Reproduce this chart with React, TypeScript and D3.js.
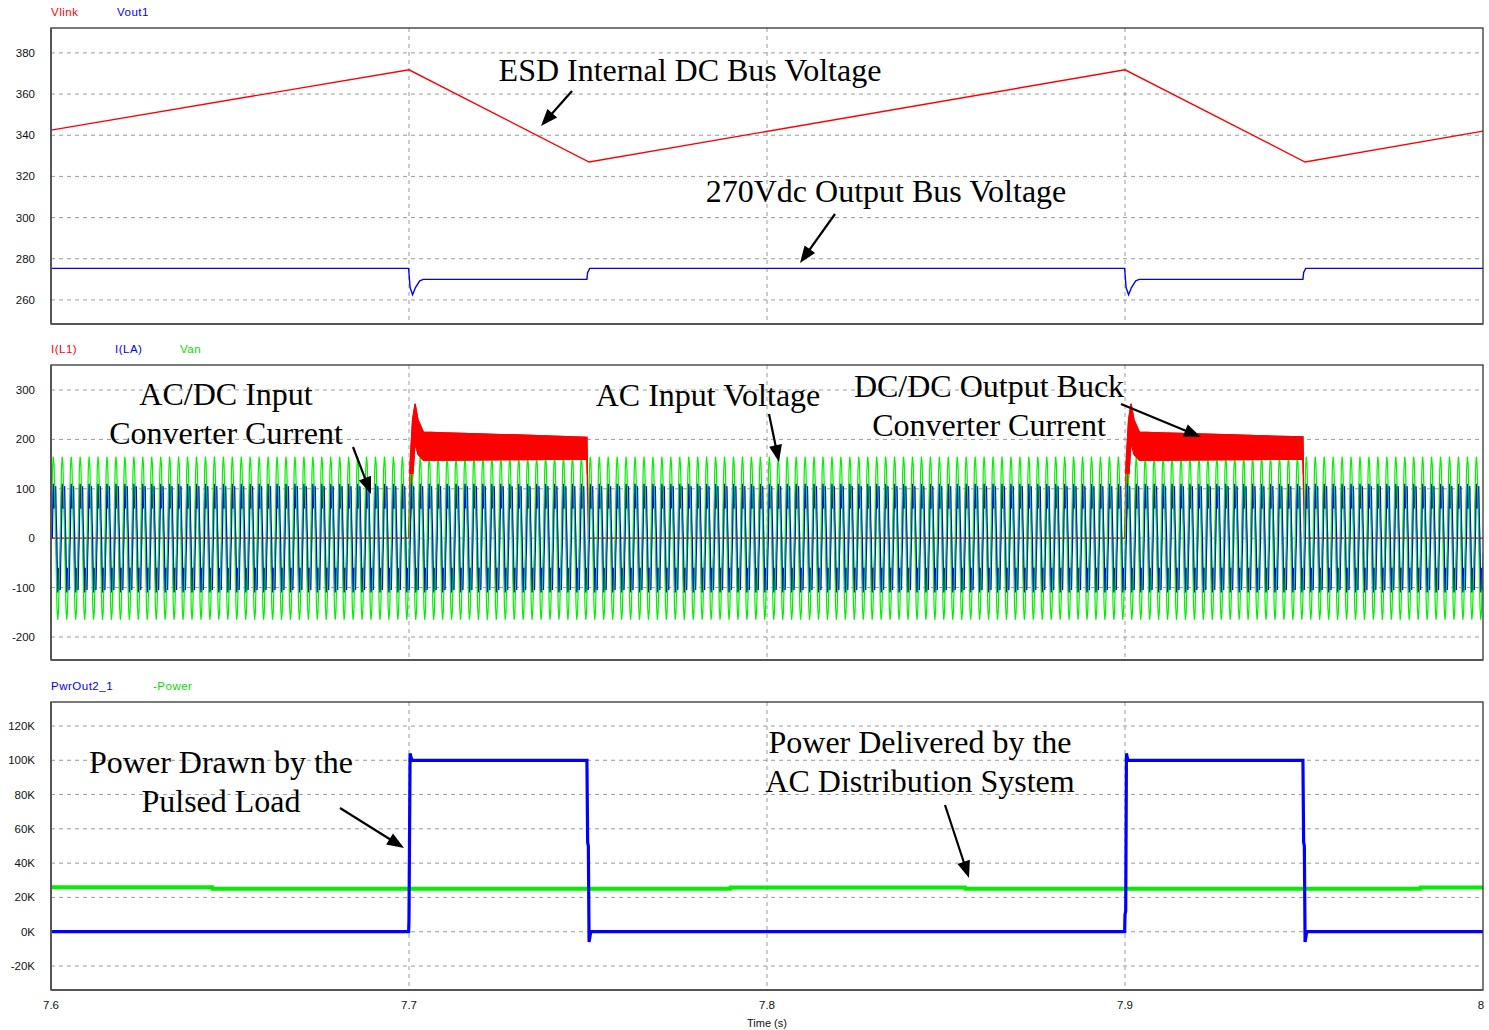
import * as d3 from 'd3';

// ---- data ----
const timeTicks = [7.6, 7.7, 7.8, 7.9, 8.0];
const timeGrid = [7.7, 7.8, 7.9];

// panel 1: Vlink (ESD DC bus) and Vout1 (270 Vdc bus)
const vlinkT = [7.6, 7.7, 7.7503, 7.9, 7.9503, 8.0];
const vlinkV = [342.5, 371.8, 327.0, 371.8, 327.0, 342.0];
const vout1T = [7.6, 7.6999, 7.7003, 7.7010, 7.7018, 7.7030, 7.7040, 7.7497, 7.7499, 7.7505,
  7.8999, 7.9003, 7.9010, 7.9018, 7.9030, 7.9040, 7.9497, 7.9499, 7.9505, 8.0];
const vout1V = [275.3, 275.3, 266, 262.5, 266, 269.3, 270, 270, 273.3, 275.3,
  275.3, 266, 262.5, 266, 269.3, 270, 270, 273.3, 275.3, 275.3];

// panel 2: I(L1) envelope of the switching ripple, one AC cycle of I(LA) and Van
const il1T = [7.6, 7.6999, 7.7003, 7.7010, 7.7017, 7.7025, 7.7040, 7.7100, 7.7300, 7.7497, 7.7501,
  7.8999, 7.9003, 7.9010, 7.9017, 7.9025, 7.9040, 7.9100, 7.9300, 7.9497, 7.9501, 8.0];
const il1Hi = [0, 0, 150, 240, 272, 240, 215, 213, 209, 204, 0,
  0, 150, 240, 272, 240, 215, 213, 209, 205, 0, 0];
const il1Lo = [0, 0, 20, 120, 195, 170, 158, 158, 159, 160, 0,
  0, 20, 120, 195, 170, 158, 158, 159, 160, 0, 0];
const acFreq = 400;
const vanCycle = [-30, 60, 140, 165, 150, 90, 20, -60, -140, -165, -150, -90];
const ilaCycle = [0, 70, 110, 95, 60, 100, 105, 40, 0, -70, -110, -95, -60, -100, -105, -40];

// panel 3: PwrOut2_1 (pulsed load) and -Power (AC distribution), kW
const pwrT = [7.6, 7.6999, 7.7000, 7.7003, 7.7008, 7.7497, 7.7499, 7.7501, 7.7503, 7.7506, 7.7508,
  7.8999, 7.9000, 7.9002, 7.9004, 7.9008, 7.9497, 7.9499, 7.9501, 7.9503, 7.9506, 7.9508, 8.0];
const pwrV = [0, 0, 8, 104, 100, 100, 52, 50, -6, -2, 0,
  0, 10, 12, 104, 100, 100, 52, 50, -6, -2, 0, 0];
const powerT = [7.6, 7.645, 7.6451, 7.7897, 7.7898, 7.8553, 7.8554, 7.9824, 7.9825, 8.0];
const powerV = [26.0, 26.0, 25.0, 25.0, 25.8, 25.8, 25.0, 25.0, 25.8, 25.8];

const W = 1489;
const H = 1030;
const xLeft = 51;
const xRight = 1483;

const panels = [
  { top: 28, bottom: 324, domain: [248.3, 392.1], ticks: [260, 280, 300, 320, 340, 360, 380], fmt: (v) => `${v}` },
  { top: 365, bottom: 660, domain: [-246.6, 350.6], ticks: [-200, -100, 0, 100, 200, 300], fmt: (v) => `${v}` },
  { top: 702, bottom: 990, domain: [-34, 134], ticks: [-20, 0, 20, 40, 60, 80, 100, 120], fmt: (v) => `${v}K` },
];

const legends = [
  [{ text: 'Vlink', x: 51, c: '#ff0000' }, { text: 'Vout1', x: 117, c: '#0000ff' }],
  [{ text: 'I(L1)', x: 51, c: '#ff0000' }, { text: 'I(LA)', x: 115, c: '#0000ff' }, { text: 'Van', x: 180, c: '#00e000' }],
  [{ text: 'PwrOut2_1', x: 51, c: '#0000ff' }, { text: '-Power', x: 153, c: '#00e000' }],
];

const notes = [
  { lines: ['ESD Internal DC Bus Voltage'], x: 690, y: 81 },
  { lines: ['270Vdc Output Bus Voltage'], x: 886, y: 202 },
  { lines: ['AC/DC Input', 'Converter Current'], x: 226, y: 405 },
  { lines: ['AC Input Voltage'], x: 708, y: 406 },
  { lines: ['DC/DC Output Buck', 'Converter Current'], x: 989, y: 397 },
  { lines: ['Power Drawn by the', 'Pulsed Load'], x: 221, y: 773 },
  { lines: ['Power Delivered by the', 'AC Distribution System'], x: 920, y: 753 },
];

const arrows = [
  [572, 91, 541, 126],
  [835, 214, 800, 263],
  [353, 447, 371, 494],
  [769, 414, 779, 462],
  [1121, 404, 1201, 437],
  [340, 808, 404, 848],
  [945, 805, 969, 878],
];

function tile(cycle: number[], freq: number, t0: number, t1: number, phase: number) {
  const step = 1 / freq / cycle.length;
  const pts: [number, number][] = [];
  let k = 0;
  for (let t = t0 + phase; t <= t1; t += step, k++) {
    pts.push([t, cycle[k % cycle.length]]);
  }
  return pts;
}

function arrowHead(x1: number, y1: number, x2: number, y2: number) {
  const a = Math.atan2(y2 - y1, x2 - x1);
  const len = 17;
  const half = 6.5;
  const bx = x2 - len * Math.cos(a);
  const by = y2 - len * Math.sin(a);
  const px = -Math.sin(a) * half;
  const py = Math.cos(a) * half;
  return `M${x2},${y2}L${bx + px},${by + py}L${bx - px},${by - py}Z`;
}

export default function App() {
  const x = d3.scaleLinear().domain([7.6, 8.0]).range([xLeft, xRight]);
  const ys = panels.map((p) => d3.scaleLinear().domain(p.domain).range([p.bottom, p.top]));

  const lineOf = (y) => d3.line<[number, number]>().x((d) => x(d[0])).y((d) => y(d[1]));
  const zipped = (t: number[], v: number[]) => t.map((ti, i) => [ti, v[i]] as [number, number]);

  const vlinkPath = lineOf(ys[0])(zipped(vlinkT, vlinkV));
  const vout1Path = lineOf(ys[0])(zipped(vout1T, vout1V));

  const il1Area = d3.area<number>()
    .x((i) => x(il1T[i]))
    .y0((i) => ys[1](il1Lo[i]))
    .y1((i) => ys[1](il1Hi[i]))(d3.range(il1T.length));
  const ilaPath = lineOf(ys[1])(tile(ilaCycle, acFreq, 7.6, 8.0, 0.0003));
  const vanPath = lineOf(ys[1])(tile(vanCycle, acFreq, 7.6, 8.0, 0));
  const bandTop = ys[1](130);

  const pwrPath = lineOf(ys[2])(zipped(pwrT, pwrV));
  const powerPath = lineOf(ys[2])(zipped(powerT, powerV));

  const sans = '"Liberation Sans", Arial, sans-serif';
  const serif = '"Liberation Serif", "Times New Roman", serif';

  return (
    <svg width={W} height={H} style={{ position: 'absolute', left: 0, top: 0, background: '#fff' }}>
      <defs>
        {panels.map((p, i) => (
          <clipPath id={`clip${i}`} key={i}>
            <rect x={xLeft} y={p.top} width={xRight - xLeft} height={p.bottom - p.top} />
          </clipPath>
        ))}
        <clipPath id="clipBand">
          <rect x={xLeft} y={panels[1].top} width={xRight - xLeft} height={bandTop - panels[1].top} />
        </clipPath>
      </defs>

      {panels.map((p, i) => (
        <g key={i}>
          {p.ticks.map((t) => (
            <g key={t}>
              <line x1={xLeft} x2={xRight} y1={ys[i](t)} y2={ys[i](t)} stroke="#9a9a9a" strokeDasharray="4,4" />
              <text x={35} y={ys[i](t) + 4} textAnchor="end" fontFamily={sans} fontSize={11.5} fill="#111">{p.fmt(t)}</text>
            </g>
          ))}
          {timeGrid.map((t) => (
            <line key={t} x1={x(t)} x2={x(t)} y1={p.top} y2={p.bottom} stroke="#9a9a9a" strokeDasharray="4,4" />
          ))}
          {legends[i].map((l) => (
            <text key={l.text} x={l.x} y={p.top - 12} fontFamily={sans} fontSize={11.5} letterSpacing={0.5} fill={l.c}>{l.text}</text>
          ))}
        </g>
      ))}

      <g clipPath="url(#clip0)" fill="none">
        <path d={vlinkPath} stroke="#ff0000" strokeWidth={1.4} />
        <path d={vout1Path} stroke="#0000ff" strokeWidth={1.4} />
      </g>
      <g clipPath="url(#clip1)">
        <path d={il1Area} fill="#ff0000" stroke="#ff0000" strokeWidth={1.2} />
        <path d={ilaPath} fill="none" stroke="#0000ff" strokeWidth={1.8} />
        <path d={vanPath} fill="none" stroke="#00f000" strokeWidth={1.2} />
      </g>
      <g clipPath="url(#clipBand)">
        <path d={il1Area} fill="#ff0000" stroke="#ff0000" strokeWidth={1.2} />
      </g>
      <g clipPath="url(#clip2)" fill="none">
        <path d={powerPath} stroke="#00f000" strokeWidth={4} />
        <path d={pwrPath} stroke="#0000ff" strokeWidth={3.2} />
      </g>

      {panels.map((p, i) => (
        <g key={`f${i}`}>
          <rect x={xLeft} y={p.top} width={xRight - xLeft} height={p.bottom - p.top} fill="none" stroke="#333" strokeWidth={1.3} />
          <line x1={xLeft} x2={xLeft} y1={p.top} y2={p.bottom} stroke="#555" strokeWidth={2} />
          <line x1={xLeft} x2={xRight} y1={p.bottom} y2={p.bottom} stroke="#555" strokeWidth={2} />
        </g>
      ))}

      {timeTicks.map((t) => (
        <text key={t} x={t === 8 ? x(t) - 2 : x(t)} y={1009} textAnchor="middle" fontFamily={sans} fontSize={11.5} fill="#111">
          {t === 8 ? '8' : t.toFixed(1)}
        </text>
      ))}
      <text x={767} y={1027} textAnchor="middle" fontFamily={sans} fontSize={11} fill="#111">Time (s)</text>

      {notes.map((n, i) => (
        <text key={i} x={n.x} y={n.y} textAnchor="middle" fontFamily={serif} fontSize={32} fill="#000">
          {n.lines.map((ln, j) => (
            <tspan key={j} x={n.x} dy={j === 0 ? 0 : 39}>{ln}</tspan>
          ))}
        </text>
      ))}

      {arrows.map(([x1, y1, x2, y2], i) => (
        <g key={i}>
          <line x1={x1} y1={y1} x2={x2 - 10 * Math.cos(Math.atan2(y2 - y1, x2 - x1))} y2={y2 - 10 * Math.sin(Math.atan2(y2 - y1, x2 - x1))} stroke="#000" strokeWidth={2.2} />
          <path d={arrowHead(x1, y1, x2, y2)} fill="#000" />
        </g>
      ))}
    </svg>
  );
}
